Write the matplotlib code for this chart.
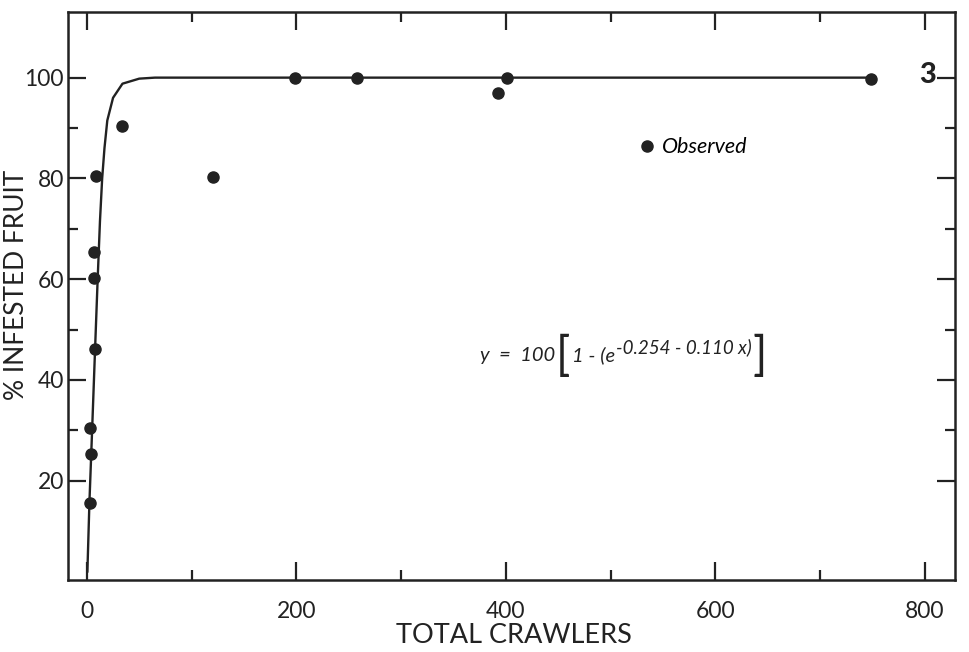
import matplotlib
matplotlib.use('Agg')
import matplotlib.pyplot as plt
import numpy as np

# observed points (total crawlers vs % infested fruit)
obs_x = [3.0, 3.8, 2.6, 7.5, 6.5, 6.5, 8.5, 33.5, 120, 199, 258, 393, 401, 749]
obs_y = [15.5, 25.3, 30.4, 46.1, 60.2, 65.3, 80.4, 90.5, 80.3, 99.9, 100, 96.9, 99.9, 99.8]

# fitted curve
fit_x = [0.5, 2.4, 5.0, 7.8, 10.3, 12.5, 14.6, 16.8, 19.5, 25.0, 34.0, 50.0, 65.0, 100, 749]
fit_y = [2.0, 15.5, 30.0, 46.0, 60.0, 71.5, 80.0, 86.0, 91.5, 96.0, 98.8, 99.8, 100, 100, 100]

xticks = [0, 200, 400, 600, 800]
yticks = [20, 40, 60, 80, 100]

ink = '#222222'
plt.rcParams['font.family'] = ['Lato', 'DejaVu Sans']

fig = plt.figure(figsize=(9.69, 6.52), dpi=100)
ax = fig.add_axes([0.0702, 0.1104, 0.9154, 0.871])

ax.plot(fit_x, fit_y, '-', c=ink, lw=1.7, zorder=2)
ax.plot(obs_x, obs_y, 'o', c=ink, ms=8, zorder=3, label='Observed')

ax.set_xlim(-18, 829)
ax.set_ylim(0.3, 113)

ax.set_xticks(xticks)
ax.set_xticks([100, 300, 500, 700], minor=True)
ax.set_yticks(yticks)
ax.set_yticks([30, 50, 70, 90], minor=True)

ax.tick_params(which='both', direction='in', top=True, right=True,
               width=1.6, color=ink, labelsize=16.5, labelcolor=ink)
ax.tick_params(which='major', length=13)
ax.tick_params(which='minor', length=7)
ax.tick_params(axis='y', pad=3)
ax.tick_params(axis='x', pad=15)

for s in ax.spines.values():
    s.set_linewidth(1.8)
    s.set_color(ink)

ax.set_xlabel('TOTAL CRAWLERS', fontsize=19.5, color=ink)
ax.set_ylabel('% INFESTED FRUIT', fontsize=19, color=ink)
ax.xaxis.set_label_coords(0.503, -0.076)
ax.yaxis.set_label_coords(-0.044, 0.52)

ax.legend(loc='center left', bbox_to_anchor=(0.647, 0.762), frameon=False,
          numpoints=1, handlelength=0.5, handletextpad=0.45, borderpad=0,
          borderaxespad=0, prop={'style': 'italic', 'size': 15.5})

ax.text(0.969, 0.889, '3', transform=ax.transAxes, fontsize=21,
        fontweight='black', ha='center', va='center', color=ink)

# equation, built in pieces so the brackets are tall and the exponent raised
eq = dict(fontsize=14.5, style='italic', color=ink, va='center', ha='left')
br = dict(fontsize=34, color=ink, va='center', ha='left',
          textcoords='offset points')
t1 = ax.text(0.464, 0.396, 'y  =  100', transform=ax.transAxes, **eq)
t2 = ax.annotate('[', xy=(1, 0.5), xycoords=t1, xytext=(1, -1), **br)
t3 = ax.annotate('1 - (e', xy=(1, 0.5), xycoords=t2, xytext=(1, 1),
                 textcoords='offset points', **eq)
t4 = ax.annotate('-0.254 - 0.110 x)', xy=(1, 0.5), xycoords=t3,
                 xytext=(0.5, 6), textcoords='offset points', fontsize=13.5,
                 style='italic', color=ink, va='center', ha='left')
ax.annotate(']', xy=(1, 0.5), xycoords=t4, xytext=(1, -7), **br)

fig.savefig('out.png', dpi=100)
